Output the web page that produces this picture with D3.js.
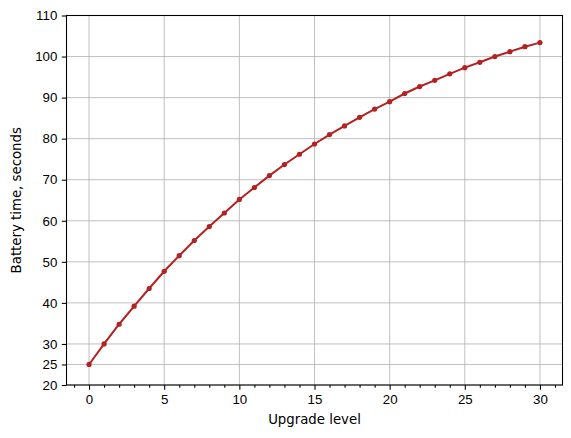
<!DOCTYPE html>
<html>
<head>
<meta charset="utf-8">
<script src="https://cdn.jsdelivr.net/npm/d3@7"></script>
<style>
  body { margin: 0; background: #fff; }
  svg { display: block; font-family: "DejaVu Sans", sans-serif; }
  .grid line { stroke: #b0b0b0; stroke-width: 0.8px; }
  .axis text { font-size: 13.3px; fill: #000; }
  .axis line { stroke: #000; stroke-width: 1.07px; }
  .spine { fill: none; stroke: #000; stroke-width: 1.07px; }
</style>
</head>
<body>
<svg width="571" height="438"></svg>
<script>
'use strict';

// upgrade levels 0..30
var levels = d3.range(0, 31);
// battery time
var batteryTime = [25, 30, 34.8, 39.2, 43.5, 47.7, 51.5, 55.2, 58.6, 61.9,
    65.2, 68.1, 71.0, 73.7, 76.2, 78.7, 81.0, 83.1, 85.2, 87.2,
    89.0, 91.0, 92.7, 94.2, 95.8, 97.3, 98.6, 100.0, 101.2, 102.4, 103.4];
var xTicks = [0, 5, 10, 15, 20, 25, 30];
var yTicks = [20, 25, 30, 40, 50, 60, 70, 80, 90, 100, 110];

var svg = d3.select('svg'),
    plotLeft = 66.5, plotRight = 562.5, plotTop = 15.5, plotBottom = 385;

var x = d3.scaleLinear().domain([-1.5, 31.5]).range([plotLeft, plotRight]),
    y = d3.scaleLinear().domain([20, 110]).range([plotBottom, plotTop]);

// Grid
var grid = svg.append('g').attr('class', 'grid');
grid.selectAll('line.gx').data(xTicks).enter().append('line')
    .attr('x1', function (d) { return x(d); })
    .attr('x2', function (d) { return x(d); })
    .attr('y1', plotTop).attr('y2', plotBottom);
grid.selectAll('line.gy').data(yTicks).enter().append('line')
    .attr('y1', function (d) { return y(d); })
    .attr('y2', function (d) { return y(d); })
    .attr('x1', plotLeft).attr('x2', plotRight);

// Axes
var xAxis = svg.append('g').attr('class', 'axis')
    .attr('transform', 'translate(0,' + plotBottom + ')')
    .call(d3.axisBottom(x).tickValues(xTicks).tickSizeInner(4.7).tickPadding(4.5));
xAxis.select('.domain').remove();

var minor = levels.filter(function (d) { return d % 5 !== 0; }).concat([-1, 31]);
svg.append('g').attr('class', 'axis')
    .attr('transform', 'translate(0,' + plotBottom + ')')
    .call(d3.axisBottom(x).tickValues(minor).tickSizeInner(2.7).tickFormat(''))
    .select('.domain').remove();

var yAxis = svg.append('g').attr('class', 'axis')
    .attr('transform', 'translate(' + plotLeft + ',0)')
    .call(d3.axisLeft(y).tickValues(yTicks).tickSizeInner(4.7).tickPadding(4.5));
yAxis.select('.domain').remove();

svg.append('rect').attr('class', 'spine')
    .attr('x', plotLeft).attr('y', plotTop)
    .attr('width', plotRight - plotLeft).attr('height', plotBottom - plotTop);

// Line + markers
var line = d3.line()
    .x(function (d, i) { return x(levels[i]); })
    .y(function (d) { return y(d); });

svg.append('path').datum(batteryTime)
    .attr('d', line)
    .attr('fill', 'none')
    .attr('stroke', '#b22222')
    .attr('stroke-width', 2);

svg.append('g').selectAll('circle').data(batteryTime).enter().append('circle')
    .attr('cx', function (d, i) { return x(levels[i]); })
    .attr('cy', function (d) { return y(d); })
    .attr('r', 2.6)
    .attr('fill', '#b22222');

// Labels
svg.append('text')
    .attr('x', (plotLeft + plotRight) / 2).attr('y', 424)
    .attr('text-anchor', 'middle')
    .style('font-size', '13.3px')
    .text('Upgrade level');

svg.append('text')
    .attr('transform', 'translate(21,' + ((plotTop + plotBottom) / 2) + ') rotate(-90)')
    .attr('text-anchor', 'middle')
    .style('font-size', '13.3px')
    .text('Battery time, seconds');
</script>
</body>
</html>
